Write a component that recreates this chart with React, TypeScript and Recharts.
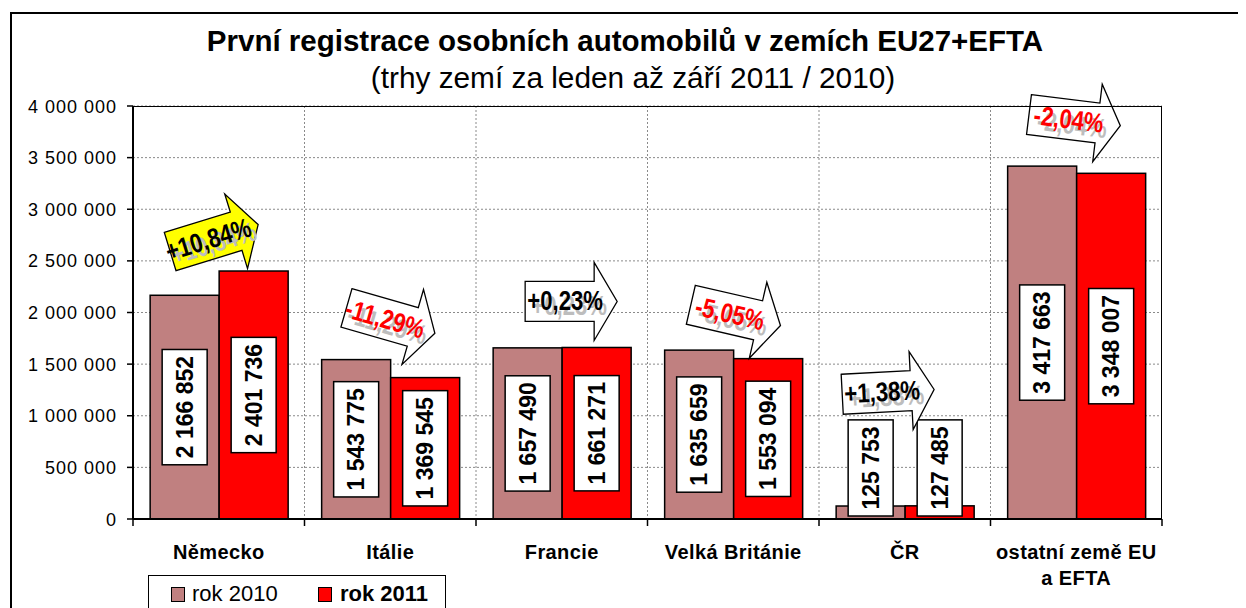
import React from 'react';
import { BarChart, Bar, XAxis, YAxis, CartesianGrid } from 'recharts';

const categories = ['Německo', 'Itálie', 'Francie', 'Velká Británie', 'ČR', 'ostatní země EU a EFTA'];
const categoryLines = [['Německo'], ['Itálie'], ['Francie'], ['Velká Británie'], ['ČR'], ['ostatní země EU', 'a EFTA']];
const values2010 = [2166852, 1543775, 1657490, 1635659, 125753, 3417663];
const values2011 = [2401736, 1369545, 1661271, 1553094, 127485, 3348007];
const changeLabels = ['+10,84%', '-11,29%', '+0,23%', '-5,05%', '+1,38%', '-2,04%'];
const yTicks = [0, 500000, 1000000, 1500000, 2000000, 2500000, 3000000, 3500000, 4000000];
const seriesNames = ['rok 2010', 'rok 2011'];
const titleText = 'První registrace osobních automobilů v zemích EU27+EFTA';
const subtitleText = '(trhy zemí za leden až září 2011 / 2010)';

// styling of the annotation arrows (offsets relative to the bar group, rotation, fill)
const arrowStyles = [
  { dx: -5, dy: -33, angle: -17, fill: '#FFFF00' },
  { dx: 0, dy: -39, angle: 16, fill: '#FFFFFF' },
  { dx: 9, dy: -46, angle: 0, fill: '#FFFFFF' },
  { dx: 2, dy: -35, angle: 13, fill: '#FFFFFF' },
  { dx: -17, dy: -114, angle: -3, fill: '#FFFFFF' },
  { dx: -2, dy: -46, angle: 7, fill: '#FFFFFF' },
];

const data = categories.map((name, i) => ({ name, v2010: values2010[i], v2011: values2011[i] }));

const FONT = 'Arial, "Liberation Sans", Helvetica, sans-serif';
const W = 1238;
const H = 600;
const MARGIN = { top: 98, right: 84, bottom: 29, left: 25 };
const YAXIS_W = 100;
const PLOT_W = W - MARGIN.left - MARGIN.right - YAXIS_W;
const PLOT_H = 413;
const COLORS = ['#C08080', '#FF0000'];

const fmt = (n: number) => String(n).replace(/\B(?=(\d{3})+(?!\d))/g, ' ');

const estWidth = (s: string, fs: number, ls: number) => {
  let w = 0;
  for (const ch of s) w += ch === ' ' ? 0.278 : 0.556;
  return w * fs + ls * (s.length - 1);
};

const Arrow = ({ cx, cy, idx }: { cx: number; cy: number; idx: number }) => {
  const st = arrowStyles[idx];
  const label = changeLabels[idx];
  const color = label.startsWith('-') ? '#FF0000' : '#000000';
  return (
    <g transform={`translate(${cx + st.dx},${cy + st.dy}) rotate(${st.angle})`}>
      <polygon
        points="-46,-20 23,-20 23,-39 46,0 23,39 23,20 -46,20"
        fill={st.fill}
        stroke="#000"
        strokeWidth={1.3}
        strokeLinejoin="miter"
      />
      <g transform="translate(-2,14) scale(0.82,1)">
        <text x={0} y={0} textAnchor="middle" fontFamily={FONT} fontSize={27} fontWeight="bold" fill="#BDBDBD">
          {label}
        </text>
      </g>
      <g transform="translate(-6,9) scale(0.82,1)">
        <text x={0} y={0} textAnchor="middle" fontFamily={FONT} fontSize={27} fontWeight="bold" fill={color}>
          {label}
        </text>
      </g>
    </g>
  );
};

const makeShape = (series: number) => (props: any) => {
  const { x, y, width, height, payload } = props;
  const idx = categories.indexOf(payload?.name ?? props.name);
  const value = series === 0 ? values2010[idx] : values2011[idx];
  const label = fmt(value);
  const fs = 23;
  const ls = 0;
  const boxW = 45;
  const boxH = estWidth(label, fs, ls) + 13;
  const cx = x + width / 2;
  const bottom = y + height;
  let cy = y + height / 2;
  if (cy + boxH / 2 > bottom - 3) cy = bottom - 3 - boxH / 2;
  let arrow = null;
  if (series === 1) {
    const perUnit = height / value;
    const maxTop = bottom - Math.max(values2010[idx], values2011[idx]) * perUnit;
    arrow = <Arrow cx={x} cy={maxTop} idx={idx} />;
  }
  return (
    <g>
      <rect x={x} y={y} width={width} height={height} fill={COLORS[series]} stroke="#000" strokeWidth={1.5} />
      <rect x={cx - boxW / 2} y={cy - boxH / 2} width={boxW} height={boxH} fill="#FFF" stroke="#000" strokeWidth={1.5} />
      <text
        transform={`translate(${cx},${cy}) rotate(-90)`}
        x={0}
        y={8}
        textAnchor="middle"
        fontFamily={FONT}
        fontSize={fs}
        fontWeight="bold"
        fill="#000"
      >
        {label}
      </text>
      {arrow}
    </g>
  );
};

const XTick = (props: any) => {
  const { x, y, payload } = props;
  const idx = categories.indexOf(payload.value);
  const lines = categoryLines[idx] || [payload.value];
  const band = PLOT_W / categories.length;
  return (
    <g>
      <line x1={x - band / 2} x2={x - band / 2} y1={y} y2={y + 7} stroke="#000" strokeWidth={1.5} />
      {idx === categories.length - 1 && (
        <line x1={x + band / 2} x2={x + band / 2} y1={y} y2={y + 7} stroke="#000" strokeWidth={1.5} />
      )}
      {lines.map((l: string, i: number) => (
        <text
          key={i}
          x={x}
          y={y + 40 + i * 26}
          textAnchor="middle"
          fontFamily={FONT}
          fontSize={20}
          fontWeight="bold"
          letterSpacing={0.4}
          fill="#000"
        >
          {l}
        </text>
      ))}
    </g>
  );
};

const YTick = (props: any) => {
  const { x, y, payload } = props;
  return (
    <text x={x} y={y + 6.5} textAnchor="end" fontFamily={FONT} fontSize={18} letterSpacing={1} fill="#000">
      {fmt(payload.value)}
    </text>
  );
};

export default function App() {
  return (
    <div style={{ position: 'relative', width: W, height: H, overflow: 'hidden', background: '#fff', fontFamily: FONT }}>
      <div
        style={{
          position: 'absolute',
          left: 2,
          top: 4,
          width: 1400,
          height: 800,
          border: '2px solid #000',
          boxSizing: 'border-box',
        }}
      />
      <div
        style={{
          position: 'absolute',
          left: 617,
          top: 18,
          transform: 'translateX(-50%)',
          whiteSpace: 'nowrap',
          fontSize: 29.5,
          lineHeight: '29.5px',
          fontWeight: 'bold',
          color: '#000',
        }}
      >
        {titleText}
      </div>
      <div
        style={{
          position: 'absolute',
          left: 625,
          top: 55,
          transform: 'translateX(-50%)',
          whiteSpace: 'nowrap',
          fontSize: 29.8,
          lineHeight: '29.8px',
          color: '#000',
        }}
      >
        {subtitleText}
      </div>
      <div style={{ position: 'absolute', left: 0, top: 0 }}>
        <BarChart width={W} height={H} data={data} margin={MARGIN} barCategoryGap="10%" barGap={0}>
          <CartesianGrid
            stroke="#8a8a8a"
            strokeDasharray="2 2"
            verticalCoordinatesGenerator={(p: any) => {
              const l = p?.offset?.left ?? MARGIN.left + YAXIS_W;
              const w = p?.offset?.width ?? PLOT_W;
              return [1, 2, 3, 4, 5].map((i) => l + (i * w) / 6);
            }}
          />
          <XAxis
            dataKey="name"
            interval={0}
            height={60}
            axisLine={{ stroke: '#000', strokeWidth: 2 }}
            tickLine={false}
            tickSize={0}
            tickMargin={0}
            tick={<XTick />}
          />
          <YAxis
            width={YAXIS_W}
            domain={[0, 4000000]}
            ticks={yTicks}
            interval={0}
            axisLine={{ stroke: '#000', strokeWidth: 2 }}
            tickLine={{ stroke: '#000', strokeWidth: 1.5 }}
            tickSize={6}
            tickMargin={10}
            tick={<YTick />}
          />
          <Bar dataKey="v2010" name={seriesNames[0]} fill={COLORS[0]} isAnimationActive={false} shape={makeShape(0)} />
          <Bar dataKey="v2011" name={seriesNames[1]} fill={COLORS[1]} isAnimationActive={false} shape={makeShape(1)} />
        </BarChart>
      </div>
      <div
        style={{
          position: 'absolute',
          left: MARGIN.left + YAXIS_W,
          top: MARGIN.top,
          width: PLOT_W,
          height: PLOT_H,
          border: '1.5px solid #000',
          boxSizing: 'border-box',
          pointerEvents: 'none',
        }}
      />
      <div
        style={{
          position: 'absolute',
          left: 140,
          top: 567,
          width: 298,
          height: 60,
          border: '1.5px solid #000',
          boxSizing: 'border-box',
          background: '#fff',
        }}
      >
        <div style={{ position: 'absolute', left: 22, top: 11, width: 12, height: 13, background: COLORS[0], border: '1.5px solid #000' }} />
        <div style={{ position: 'absolute', left: 43, top: 7, fontSize: 22, lineHeight: '22px', whiteSpace: 'nowrap' }}>
          {seriesNames[0]}
        </div>
        <div style={{ position: 'absolute', left: 169, top: 11, width: 12, height: 13, background: COLORS[1], border: '1.5px solid #000' }} />
        <div style={{ position: 'absolute', left: 191, top: 7, fontSize: 22, lineHeight: '22px', fontWeight: 'bold', whiteSpace: 'nowrap' }}>
          {seriesNames[1]}
        </div>
      </div>
    </div>
  );
}
